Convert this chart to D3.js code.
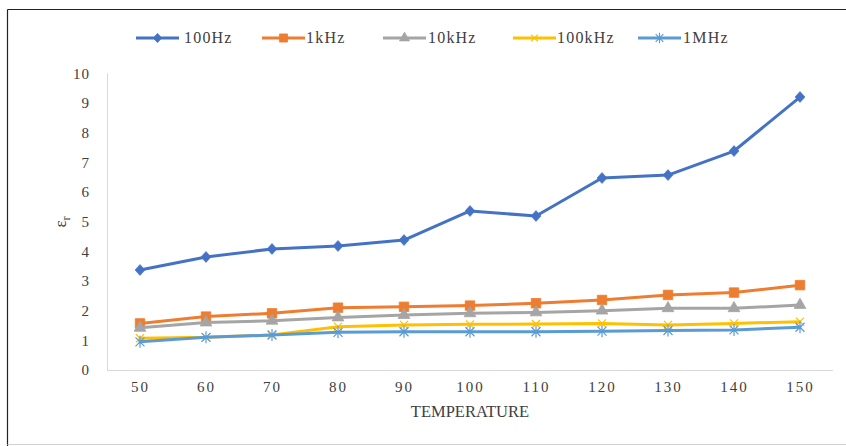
<!DOCTYPE html>
<html>
<head>
<meta charset="utf-8">
<script src="https://cdn.jsdelivr.net/npm/d3@7"></script>
<style>
  html, body { margin: 0; padding: 0; background: #fff; }
  svg { display: block; font-family: "Liberation Serif", "Times New Roman", serif; }
</style>
</head>
<body>
<svg id="chart" width="846" height="446"></svg>
<script>
// Temperature steps (x categories)
const temperatures = [50, 60, 70, 80, 90, 100, 110, 120, 130, 140, 150];

// Relative permittivity at each frequency
const eps100Hz = [3.37, 3.81, 4.08, 4.18, 4.38, 5.36, 5.19, 6.47, 6.57, 7.38, 9.2];
const eps1kHz  = [1.57, 1.80, 1.91, 2.10, 2.13, 2.17, 2.25, 2.36, 2.53, 2.61, 2.86];
const eps10kHz = [1.42, 1.60, 1.66, 1.77, 1.85, 1.91, 1.94, 2.00, 2.08, 2.08, 2.19];
const eps100kHz = [1.07, 1.10, 1.18, 1.46, 1.52, 1.54, 1.55, 1.57, 1.52, 1.57, 1.63];
const eps1MHz  = [0.95, 1.10, 1.18, 1.27, 1.29, 1.29, 1.29, 1.31, 1.33, 1.35, 1.44];

const seriesNames = ["100Hz", "1kHz", "10kHz", "100kHz", "1MHz"];
const yTicks = [0, 1, 2, 3, 4, 5, 6, 7, 8, 9, 10];

const series = [
  { name: seriesNames[0], values: eps100Hz, color: "#4472C4", marker: "diamond" },
  { name: seriesNames[1], values: eps1kHz, color: "#ED7D31", marker: "square" },
  { name: seriesNames[2], values: eps10kHz, color: "#A5A5A5", marker: "triangle" },
  { name: seriesNames[3], values: eps100kHz, color: "#FFC000", marker: "x" },
  { name: seriesNames[4], values: eps1MHz, color: "#5B9BD5", marker: "star" }
];

const svg = d3.select("#chart");
const serif = "'Liberation Serif', 'Times New Roman', serif";

// Outer frame
svg.append("line").attr("x1", 7.5).attr("y1", 9.5).attr("x2", 846).attr("y2", 9.5)
  .attr("stroke", "#222").attr("stroke-width", 1.2);
svg.append("line").attr("x1", 7.5).attr("y1", 9.5).attr("x2", 7.5).attr("y2", 446)
  .attr("stroke", "#222").attr("stroke-width", 1.2);
svg.append("line").attr("x1", 7.5).attr("y1", 444.5).attr("x2", 846).attr("y2", 444.5)
  .attr("stroke", "#d0d0d0").attr("stroke-width", 1);

const plot = { left: 107, right: 833, top: 73.3, bottom: 370 };

const x = d3.scalePoint()
  .domain(temperatures)
  .range([plot.left, plot.right])
  .padding(0.5);

const y = d3.scaleLinear()
  .domain([0, 10])
  .range([plot.bottom, plot.top]);

// Plot-area edges (left and bottom)
svg.append("line").attr("x1", plot.left + 0.5).attr("y1", plot.top).attr("x2", plot.left + 0.5).attr("y2", plot.bottom)
  .attr("stroke", "#d9d9d9").attr("stroke-width", 1);
svg.append("line").attr("x1", plot.left).attr("y1", plot.bottom + 0.5).attr("x2", plot.right).attr("y2", plot.bottom + 0.5)
  .attr("stroke", "#d9d9d9").attr("stroke-width", 1.2);

// Y axis labels
const yAxis = d3.axisLeft(y).tickValues(yTicks).tickSize(0).tickPadding(0);
const gy = svg.append("g").attr("transform", `translate(${90},0)`).call(yAxis);
gy.select(".domain").remove();
gy.selectAll("text")
  .attr("font-family", serif)
  .attr("font-size", 15)
  .attr("fill", "#404040")
  .attr("letter-spacing", "1px");

// X axis labels
const xAxis = d3.axisBottom(x).tickSize(0).tickPadding(0);
const gx = svg.append("g").attr("transform", `translate(0,${381})`).call(xAxis);
gx.select(".domain").remove();
gx.selectAll("text")
  .attr("font-family", serif)
  .attr("font-size", 15)
  .attr("fill", "#404040")
  .attr("letter-spacing", "2px");

// Axis titles
svg.append("text")
  .attr("x", 470).attr("y", 417)
  .attr("text-anchor", "middle")
  .attr("font-family", serif)
  .attr("font-size", 16.5)
  .attr("fill", "#404040")
  .text("TEMPERATURE");

const yTitle = svg.append("text")
  .attr("transform", "translate(66,222) rotate(-90)")
  .attr("text-anchor", "middle")
  .attr("font-family", serif)
  .attr("font-size", 17)
  .attr("fill", "#404040");
yTitle.append("tspan").text("ε");
yTitle.append("tspan").attr("font-size", 12).attr("dy", 4).text("r");

// Marker drawing
function drawMarker(g, type, color, cx, cy, scale) {
  const s = scale || 1;
  if (type === "diamond") {
    const w = 5 * s, h = 5.5 * s;
    g.append("path").attr("d", `M0,${-h}L${w},0L0,${h}L${-w},0Z`)
      .attr("transform", `translate(${cx},${cy})`).attr("fill", color).attr("stroke", color).attr("stroke-width", 0.6);
  } else if (type === "square") {
    g.append("path").attr("d", d3.symbol(d3.symbolSquare, 90 * s * s)())
      .attr("transform", `translate(${cx},${cy})`).attr("fill", color).attr("stroke", color).attr("stroke-width", 0.8);
  } else if (type === "triangle") {
    g.append("path").attr("d", d3.symbol(d3.symbolTriangle, 60 * s * s)())
      .attr("transform", `translate(${cx},${cy})`).attr("fill", color).attr("stroke", color).attr("stroke-width", 0.8);
  } else if (type === "x") {
    const r = 4 * s;
    g.append("path").attr("d", `M${-r},${-r}L${r},${r}M${-r},${r}L${r},${-r}`)
      .attr("transform", `translate(${cx},${cy})`).attr("fill", "none").attr("stroke", color).attr("stroke-width", 1.2);
  } else if (type === "star") {
    const r = 4.5 * s;
    g.append("path").attr("d", `M${-r},${-r}L${r},${r}M${-r},${r}L${r},${-r}M0,${-r - 1.5}L0,${r + 1.5}`)
      .attr("transform", `translate(${cx},${cy})`).attr("fill", "none").attr("stroke", color).attr("stroke-width", 1.2);
  }
}

// Series lines and markers
const line = d3.line()
  .x((d, i) => x(temperatures[i]))
  .y(d => y(d));

series.forEach(s => {
  const g = svg.append("g");
  g.append("path")
    .datum(s.values)
    .attr("d", line)
    .attr("fill", "none")
    .attr("stroke", s.color)
    .attr("stroke-width", 3)
    .attr("stroke-linejoin", "round")
    .attr("stroke-linecap", "round");
  s.values.forEach((v, i) => drawMarker(g, s.marker, s.color, x(temperatures[i]), y(v)));
});

// Legend
const legendItems = [
  { lx: 136, tx: 184 },
  { lx: 262, tx: 306 },
  { lx: 383, tx: 428 },
  { lx: 513, tx: 557 },
  { lx: 638, tx: 683 }
];
const legendY = 38;
series.forEach((s, i) => {
  const it = legendItems[i];
  const g = svg.append("g");
  g.append("line")
    .attr("x1", it.lx).attr("x2", it.lx + 43)
    .attr("y1", legendY).attr("y2", legendY)
    .attr("stroke", s.color).attr("stroke-width", 3);
  drawMarker(g, s.marker, s.color, it.lx + 21.5, legendY, 0.85);
  g.append("text")
    .attr("x", it.tx).attr("y", legendY + 5)
    .attr("font-family", serif)
    .attr("font-size", 16)
    .attr("fill", "#404040")
    .attr("letter-spacing", "1.2px")
    .text(s.name);
});
</script>
</body>
</html>
